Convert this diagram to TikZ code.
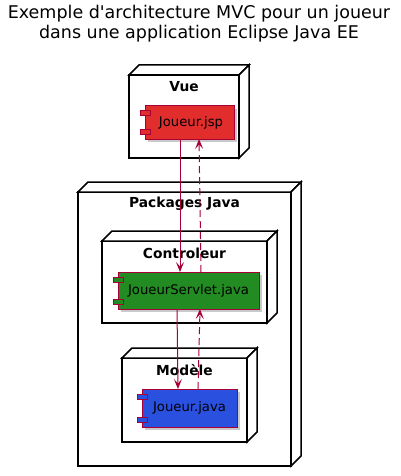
\documentclass[tikz,border=0pt]{standalone}
\usepackage{fontspec}
\setmainfont{DejaVu Sans}
\usetikzlibrary{shadows,arrows.meta,calc}
\definecolor{umlred}{HTML}{A80036}
\definecolor{jspred}{HTML}{E22D2D}
\definecolor{servgreen}{HTML}{228B22}
\definecolor{javablue}{HTML}{2A50E0}
\newcommand\mkdepth[1]{%
  \draw[boxline,fill=white] (#1.north west) -- ++(10,-10) -- ($(#1.north east)+(10,-10)$) -- (#1.north east) -- cycle;
  \draw[boxline,fill=white] (#1.north east) -- ($(#1.north east)+(10,-10)$) -- ($(#1.south east)+(10,-10)$) -- (#1.south east) -- cycle;}
\begin{document}
\begin{tikzpicture}[x=1pt,y=-1pt,
  boxline/.style={line width=1.5pt,black,line join=miter},
  cont/.style={boxline,fill=white,inner sep=0pt,outer sep=0pt},
  contlabel/.style={font=\fontsize{13.8}{15}\selectfont\bfseries},
  comp/.style={draw=umlred,line width=1pt,inner sep=0pt,outer sep=0pt,
     font=\fontsize{13.2}{15}\selectfont,
     drop shadow={shadow xshift=3pt,shadow yshift=-3pt,opacity=0.35,fill=black!60}},
  portbox/.style={draw=umlred,line width=1pt,fill=#1},
  flow/.style={draw=umlred,line width=1pt,-{Stealth[length=10pt,width=8pt,inset=4.5pt]}},
  back/.style={flow,dash pattern=on 7pt off 4pt}]
\useasboundingbox (0,0) rectangle (401,476);
% title
\node[font=\fontsize{17.5}{20}\selectfont,align=center] (title) at (199,24) {Exemple d\textquotesingle architecture MVC pour un joueur\\dans une application Eclipse Java EE};
% Vue
\node[cont,draw,minimum width=110pt,minimum height=83pt] (vue) at (184,116.5) {};
\mkdepth{vue}
\node[contlabel] (vuelab) at (184,87) {Vue};
% Packages Java
\node[cont,draw,minimum width=213pt,minimum height=274pt] (pkg) at (184.5,329) {};
\mkdepth{pkg}
\node[contlabel] (pkglab) at (184.5,204) {Packages Java};
% Controleur
\node[cont,draw,minimum width=165pt,minimum height=82pt] (ctrl) at (184.5,282) {};
\mkdepth{ctrl}
\node[contlabel] (ctrllab) at (184.5,253) {Controleur};
% Modele
\node[cont,draw,minimum width=125pt,minimum height=84pt] (mod) at (184.5,400) {};
\mkdepth{mod}
\node[contlabel] (modlab) at (184.5,370) {Modèle};
% components
\node[comp,fill=jspred,minimum width=89pt,minimum height=33pt] (jsp) at (189.5,122.5) {\hspace{3pt}Joueur.jsp};
\node[comp,fill=servgreen,minimum width=141pt,minimum height=37pt] (serv) at (188.5,290.5) {JoueurServlet.java};
\node[comp,fill=javablue,minimum width=95pt,minimum height=38pt] (java) at (189.5,408) {Joueur.java};
\draw[portbox=jspred] ($(jsp.north west)+(-5,5)$) rectangle ++(10,5);
\draw[portbox=jspred] ($(jsp.south west)+(-5,-10)$) rectangle ++(10,5);
\draw[portbox=servgreen] ($(serv.north west)+(-5,5)$) rectangle ++(10,5);
\draw[portbox=servgreen] ($(serv.south west)+(-5,-10)$) rectangle ++(10,5);
\draw[portbox=javablue] ($(java.north west)+(-5,5)$) rectangle ++(10,5);
\draw[portbox=javablue] ($(java.south west)+(-5,-10)$) rectangle ++(10,5);
% connectors
\draw[flow] ([xshift=-9.5pt]jsp.south) -- ([xshift=-8.5pt]serv.north);
\draw[back] ([xshift=12.5pt]serv.north) -- ([xshift=9.5pt]jsp.south);
\draw[flow] ([xshift=-11.5pt]serv.south) -- ([xshift=-11.5pt]java.north);
\draw[back] ([xshift=8.5pt]java.north) -- ([xshift=11.5pt]serv.south);
\end{tikzpicture}
\end{document}
